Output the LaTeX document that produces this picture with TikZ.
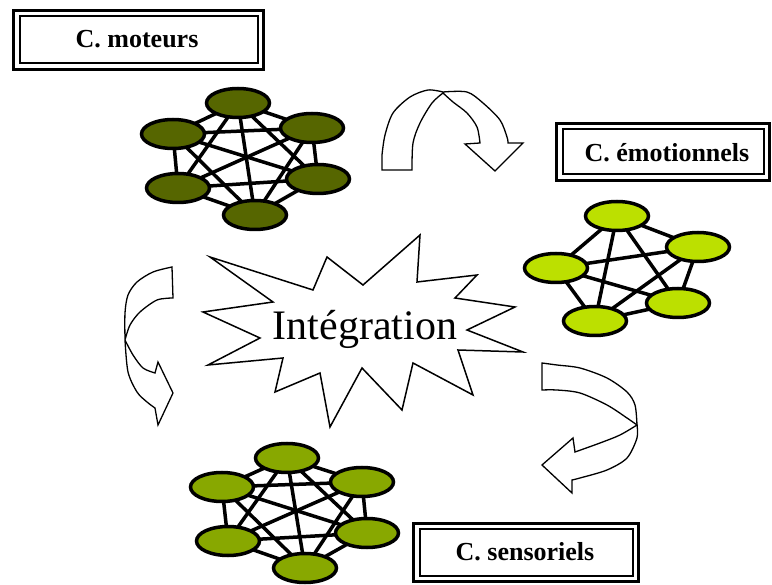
\documentclass[tikz,border=0pt]{standalone}
\usepackage{fontspec}
\setmainfont{Liberation Serif}
\usetikzlibrary{shapes.geometric,backgrounds}
\definecolor{darkolive}{RGB}{86,102,0}
\definecolor{limeg}{RGB}{188,224,0}
\definecolor{midolive}{RGB}{136,168,0}
\tikzset{
  cell/.style={ellipse,draw=black,line width=3.5pt,inner sep=0pt,minimum width=63pt,minimum height=29pt},
  link/.style={draw=black,line width=3.5pt},
  outerframe/.style={draw=black,line width=3pt},
  innerframe/.style={draw=black,line width=2pt},
  labeltext/.style={font=\bfseries\fontsize{26}{30}\selectfont,inner sep=0pt,anchor=base},
  blockarrow/.style={draw=black,line width=1.3pt,fill=white,line join=miter},
  burst/.style={draw=black,line width=1.5pt,fill=white,line join=miter}
}
\begin{document}
\begin{tikzpicture}[x=1pt,y=-1pt]
\useasboundingbox (0,0) rectangle (772,585);

% label boxes
\draw[outerframe] (13.5,10.5) rectangle (263.5,69.5);
\draw[innerframe] (19.5,16) rectangle (258,63);
\node[labeltext] (lmot) at (137,48) {C. moteurs};

\draw[outerframe] (556.5,123.5) rectangle (769.5,180.5);
\draw[innerframe] (563,129.5) rectangle (764,174.5);
\node[labeltext] (lemo) at (667,162) {C. émotionnels};

\draw[outerframe] (413.5,523.5) rectangle (638.5,581.5);
\draw[innerframe] (419.5,529.5) rectangle (633,576);
\node[labeltext] (lsen) at (525,560) {C. sensoriels};

% motor network
\node[cell,fill=darkolive] (t1) at (238,103) {};
\node[cell,fill=darkolive] (t2) at (173,134) {};
\node[cell,fill=darkolive] (t3) at (312,128) {};
\node[cell,fill=darkolive] (t4) at (178,188) {};
\node[cell,fill=darkolive] (t5) at (318,179) {};
\node[cell,fill=darkolive] (t6) at (255,215) {};
% emotional network
\node[cell,fill=limeg] (r1) at (617,216) {};
\node[cell,fill=limeg] (r2) at (698,247) {};
\node[cell,fill=limeg] (r3) at (556,268) {};
\node[cell,fill=limeg] (r4) at (678,303) {};
\node[cell,fill=limeg] (r5) at (595,321) {};
% sensory network
\node[cell,fill=midolive] (b1) at (287,458) {};
\node[cell,fill=midolive] (b2) at (222,487) {};
\node[cell,fill=midolive] (b3) at (362,482) {};
\node[cell,fill=midolive] (b4) at (228,541) {};
\node[cell,fill=midolive] (b5) at (367,533) {};
\node[cell,fill=midolive] (b6) at (305,568) {};

\begin{pgfonlayer}{background}
\fill[white] (0,0) rectangle (772,585);
\foreach \i in {1,...,5}{
  \pgfmathtruncatemacro\nx{\i+1}
  \foreach \j in {\nx,...,6}{
    \draw[link] (t\i.center) -- (t\j.center);
    \draw[link] (b\i.center) -- (b\j.center);
  }
}
\foreach \i in {1,...,4}{
  \pgfmathtruncatemacro\nx{\i+1}
  \foreach \j in {\nx,...,5}{
    \draw[link] (r\i.center) -- (r\j.center);
  }
}
\end{pgfonlayer}

% burst
\draw[burst] (210,257) -- (313,290) -- (327,257) -- (363,285) -- (420,235)
  -- (417,282) -- (477,275) -- (455,298) -- (515,307) -- (467,330)
  -- (523,352) -- (458,350) -- (473,395) -- (413,363) -- (402,410)
  -- (362,368) -- (330,427) -- (320,373) -- (275,392) -- (283,358)
  -- (208,365) -- (260,338) -- (203,312) -- (273,302) -- cycle;
\node[font=\fontsize{42}{46}\selectfont,inner sep=0pt,anchor=base] (integ) at (365,340) {Intégration};

% top curved arrow
\draw[blockarrow] (382,170)
  -- plot[smooth] coordinates {(382,155) (385,135) (393,113) (410,97) (428,90) (443,92)}
  -- plot[smooth] coordinates {(443,92) (467,92) (483,103) (500,120) (507,137) (508,143)}
  -- (523,143) -- (495,171) -- (465,144) -- (480,143)
  -- plot[smooth] coordinates {(480,143) (477,127) (467,113) (453,102) (443,93)}
  -- plot[smooth] coordinates {(443,93) (432,103) (420,123) (413,143) (412,170)}
  -- cycle;

% left curved arrow
\draw[blockarrow] (172,267)
  -- plot[smooth] coordinates {(172,267) (153,272) (137,282) (128,295) (125,313) (125,340)}
  -- plot[smooth] coordinates {(125,340) (128,372) (137,392) (147,402) (155,408)}
  -- (158,425) -- (173,393) -- (158,362) -- (155,373)
  -- plot[smooth] coordinates {(155,373) (143,368) (133,355) (125,340)}
  -- plot[smooth] coordinates {(125,340) (130,325) (140,312) (157,300) (173,298)}
  -- cycle;

% bottom-right curved arrow
\draw[blockarrow] (542,363)
  -- plot[smooth] coordinates {(542,363) (557,365) (580,368) (607,378) (627,392) (635,405) (637,425)}
  -- plot[smooth] coordinates {(637,425) (637,438) (627,458) (607,470) (580,478) (572,480)}
  -- (572,493) -- (542,465) -- (573,438) -- (575,452)
  -- plot[smooth] coordinates {(575,452) (600,443) (620,435) (637,425)}
  -- plot[smooth] coordinates {(637,425) (627,418) (607,405) (580,393) (557,390) (542,390)}
  -- cycle;
\end{tikzpicture}
\end{document}
